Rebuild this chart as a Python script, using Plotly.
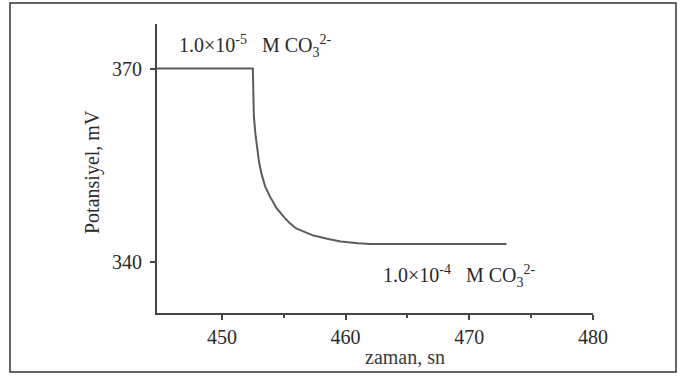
import plotly.graph_objects as go

# data
time_s = [444.75, 452.5, 452.52, 452.54, 452.58, 452.7, 452.85, 453.0, 453.2, 453.5, 453.9,
          454.4, 455.0, 455.5, 456.0, 456.7, 457.4, 458.5, 459.6, 461.0, 462.0, 473.0]
potential_mV = [370.0, 370.0, 368.0, 365.0, 362.7, 360.0, 357.8, 355.5, 353.7, 351.7, 350.1,
                348.4, 347.0, 346.0, 345.2, 344.6, 344.1, 343.6, 343.2, 342.9, 342.8, 342.8]
x_ticks = [450, 460, 470, 480]
y_ticks = [340, 370]
label_top = "1.0×10<sup>-5</sup>&nbsp;&nbsp;&nbsp;M CO<sub>3</sub><sup>2-</sup>"
label_bottom = "1.0×10<sup>-4</sup>&nbsp;&nbsp;&nbsp;M CO<sub>3</sub><sup>2-</sup>"

FONT = "Liberation Serif, Times New Roman, serif"
AX = "#454545"
TXT = "#2a2a2a"

fig = go.Figure()
fig.add_trace(go.Scatter(x=time_s, y=potential_mV, mode="lines",
                         line=dict(color="#5c5c5c", width=2), showlegend=False,
                         hoverinfo="skip"))

fig.update_layout(
    width=680, height=383,
    margin=dict(l=157, r=87, t=24, b=70),
    paper_bgcolor="white", plot_bgcolor="white",
    font=dict(family=FONT, size=20, color=TXT),
    xaxis=dict(range=[444.75, 480], tickvals=x_ticks, showgrid=False, zeroline=False,
               showline=True, linecolor=AX, linewidth=2, ticks="outside", ticklen=5,
               tickwidth=1.5, tickcolor=AX,
               minor=dict(tickvals=[455, 465, 475], ticks="outside", ticklen=3, tickcolor=AX, tickwidth=1.5),
               tickfont=dict(family=FONT, size=20, color=TXT)),
    yaxis=dict(range=[332.1, 376.9], tickvals=y_ticks, showgrid=False, zeroline=False,
               showline=True, linecolor=AX, linewidth=2, ticks="outside", ticklen=5,
               tickwidth=1.5, tickcolor=AX, ticklabelstandoff=4,
               tickfont=dict(family=FONT, size=20, color=TXT)),
)

# outer frame
fig.add_shape(type="rect", xref="paper", yref="paper",
              x0=(10 - 157) / 436, x1=(676 - 157) / 436,
              y0=(313 - 372) / 289, y1=(313 - 3) / 289,
              line=dict(color="#333", width=1.5), fillcolor="rgba(0,0,0,0)")

fig.add_annotation(x=(177 - 157) / 436, y=(313 - 46) / 289, xref="paper", yref="paper",
                   text=label_top, showarrow=False, xanchor="left", yanchor="middle",
                   font=dict(family=FONT, size=20, color=TXT))
fig.add_annotation(x=(381 - 157) / 436, y=(313 - 276) / 289, xref="paper", yref="paper",
                   text=label_bottom, showarrow=False, xanchor="left", yanchor="middle",
                   font=dict(family=FONT, size=20, color=TXT))
fig.add_annotation(x=(405 - 157) / 436, y=(313 - 357) / 289, xref="paper", yref="paper",
                   text="zaman, sn", showarrow=False, xanchor="center", yanchor="middle",
                   font=dict(family=FONT, size=20, color="#3a3a3a"))
fig.add_annotation(x=(92 - 157) / 436, y=(313 - 172) / 289, xref="paper", yref="paper",
                   text="Potansiyel, mV", showarrow=False, textangle=-90,
                   xanchor="center", yanchor="middle",
                   font=dict(family=FONT, size=20, color=TXT))

fig.write_html("out.html")
